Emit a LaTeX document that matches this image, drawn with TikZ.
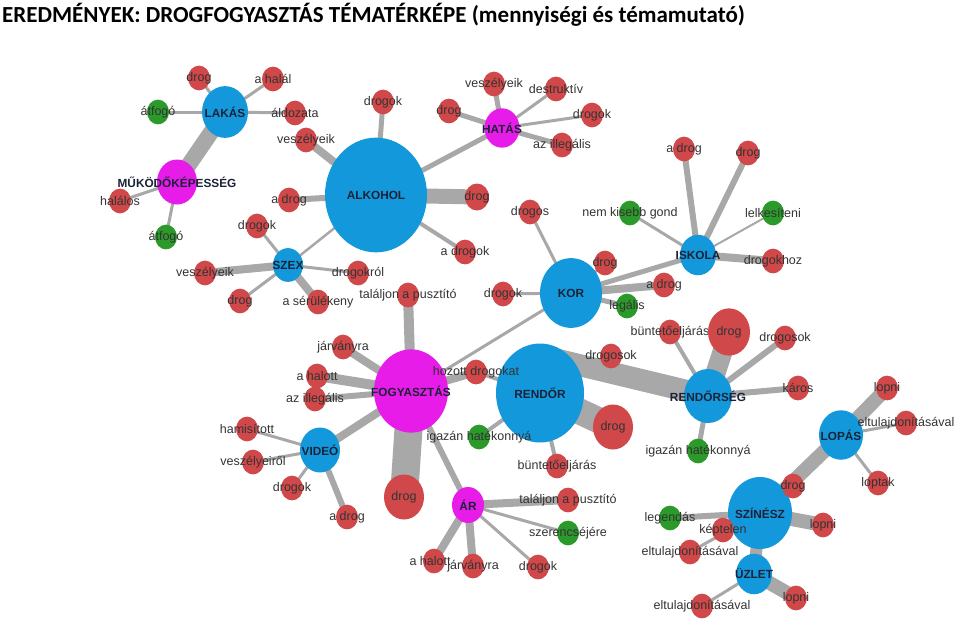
\documentclass[tikz,border=0pt]{standalone}
\usepackage{fontspec}
\setmainfont{Liberation Sans}
\newfontfamily\titlefont{Carlito}
\usetikzlibrary{shapes.geometric,calc}

\pgfdeclarelayer{bg}
\pgfsetlayers{bg,main}

\definecolor{nred}{HTML}{D0484A}
\definecolor{nblue}{HTML}{1399DB}
\definecolor{nmag}{HTML}{E81CE8}
\definecolor{ngreen}{HTML}{2B9A2B}
\definecolor{egray}{HTML}{A8A8A8}
\definecolor{ltxt}{HTML}{333333}
\definecolor{htxt}{HTML}{1A2238}

\begin{document}
\begin{tikzpicture}[x=1pt,y=-1pt,
    dot/.style={ellipse,inner sep=0pt,minimum width={2*#1pt},minimum height={2.25*#1pt}},
    rd/.style={dot=#1,fill=nred},rd/.default=11,
    gr/.style={dot=#1,fill=ngreen},gr/.default=11,
    bl/.style={dot=#1,fill=nblue},
    mg/.style={dot=#1,fill=nmag},
    lbl/.style={font=\fontsize{12.5}{14}\selectfont,text=ltxt,inner sep=0pt},
    hlbl/.style={font=\bfseries\fontsize{11.8}{14}\selectfont,text=htxt,inner sep=0pt},
    every label/.style=lbl,
    link/.style={draw=egray,line width=#1pt}]

  \useasboundingbox (0,0) rectangle (960,622);

  \node[anchor=north west,inner sep=0pt,font=\titlefont\bfseries\fontsize{23}{27}\selectfont]
    (title) at (2,3) {EREDMÉNYEK: DROGFOGYASZTÁS TÉMATÉRKÉPE (mennyiségi és témamutató)};

  % hubs
  \node[bl=23,label={[hlbl]center:LAKÁS}]          (lakas)   at (225,112) {};
  \node[mg=20,label={[hlbl]center:MŰKÖDŐKÉPESSÉG}] (muk)     at (177,182) {};
  \node[bl=51,label={[hlbl]center:ALKOHOL}]        (alk)     at (376,195) {};
  \node[bl=15,label={[hlbl]center:SZEX}]           (szex)    at (288,265) {};
  \node[mg=17.5,label={[hlbl]center:HATÁS}]        (hatas)   at (502,128) {};
  \node[bl=31,label={[hlbl]center:KOR}]            (kor)     at (571,293) {};
  \node[bl=18,label={[hlbl]center:ISKOLA}]         (iskola)  at (698,255) {};
  \node[mg=37,label={[hlbl]center:FOGYASZTÁS}]     (fogy)    at (411,391) {};
  \node[bl=44,label={[hlbl]center:RENDŐR}]         (rendor)  at (540,393) {};
  \node[bl=24,label={[hlbl]center:RENDŐRSÉG}]      (rseg)    at (708,396) {};
  \node[bl=22,label={[hlbl]center:LOPÁS}]          (lopas)   at (841,435) {};
  \node[bl=32,label={[hlbl]center:SZÍNÉSZ}]        (szinesz) at (760,513) {};
  \node[bl=18,label={[hlbl]center:ÜZLET}]          (uzlet)   at (754,574) {};
  \node[bl=20,label={[hlbl]center:VIDEÓ}]          (video)   at (320,450) {};
  \node[mg=16,label={[hlbl]center:ÁR}]             (ar)      at (468,505) {};

  % LAKÁS, MŰKÖDŐKÉPESSÉG
  \node[rd,label=center:drog]     (l1) at (199,78) {};
  \node[gr,label=center:átfogó]   (l2) at (158,112) {};
  \node[rd,label=center:a halál]  (l3) at (273,79) {};
  \node[rd,label=center:áldozata] (l4) at (295,113) {};
  \node[rd,label=center:halálos]  (m1) at (120,201) {};
  \node[gr,label=center:átfogó]   (m2) at (166,237) {};

  % ALKOHOL
  \node[rd,label=center:veszélyeik] (a1) at (306,140) {};
  \node[rd,label=center:drogok]     (a2) at (383,102) {};
  \node[rd=12,label=center:drog]    (a3) at (477,197) {};
  \node[rd,label=center:a drogok]   (a4) at (465,252) {};
  \node[rd,label=center:a drog]     (a5) at (289,200) {};

  % SZEX
  \node[rd,label=center:drogok]       (s1) at (257,226) {};
  \node[rd,label=center:veszélyeik]   (s2) at (205,273) {};
  \node[rd,label=center:drog]         (s3) at (240,301) {};
  \node[rd,label=center:a sérülékeny] (s4) at (318,302) {};
  \node[rd,label=center:drogokról]    (s5) at (358,273) {};

  % HATÁS
  \node[rd,label=center:veszélyeik]   (h1) at (494,84) {};
  \node[rd,label=center:destruktív]   (h2) at (556,89) {};
  \node[rd,label=center:drog]         (h3) at (449,111) {};
  \node[rd,label=center:drogok]       (h4) at (592,115) {};
  \node[rd,label=center:az illegális] (h5) at (562,145) {};

  % KOR, ISKOLA
  \node[rd,label=center:drogos]   (k1) at (530,212) {};
  \node[rd,label=center:drog]     (k2) at (605,263) {};
  \node[rd,label=center:drogok]   (k3) at (503,294) {};
  \node[rd,label=center:a drog]   (k4) at (664,285) {};
  \node[gr,label=center:legális]  (k5) at (627,306) {};
  \node[rd,label=center:a drog]          (i1) at (684,149) {};
  \node[rd,label=center:drog]            (i2) at (748,153) {};
  \node[gr,label=center:nem kisebb gond] (i3) at (630,213) {};
  \node[gr,label=center:lelkesíteni]     (i4) at (773,213) {};
  \node[rd,label=center:drogokhoz]       (i5) at (773,261) {};

  % FOGYASZTÁS
  \node[rd,label=center:találjon a pusztító] (f1) at (408,295) {};
  \node[rd,label=center:járványra]           (f2) at (343,347) {};
  \node[rd,label=center:a halott]            (f3) at (317,376) {};
  \node[rd,label=center:az illegális]        (f4) at (315,399) {};
  \node[rd,label=center:hozott drogokat]     (f5) at (476,372) {};
  \node[rd=20,label=center:drog]             (f6) at (404,497) {};

  % RENDŐR, RENDŐRSÉG
  \node[rd,label=center:drogosok]          (r1) at (611,356) {};
  \node[rd=20,label=center:drog]           (r2) at (613,427) {};
  \node[gr,label=center:igazán hatékonnyá] (r3) at (479,437) {};
  \node[rd,label=center:büntetőeljárás]    (r4) at (557,466) {};
  \node[rd,label=center:büntetőeljárás]    (q1) at (670,332) {};
  \node[rd=21,label=center:drog]           (q2) at (729,332) {};
  \node[rd,label=center:drogosok]          (q3) at (785,338) {};
  \node[rd,label=center:káros]             (q4) at (798,388) {};
  \node[gr,label=center:igazán hatékonnyá] (q5) at (698,451) {};

  % LOPÁS, SZÍNÉSZ, ÜZLET
  \node[rd,label=center:lopni]              (p1) at (887,388) {};
  \node[rd,label=center:eltulajdonításával] (p2) at (906,423) {};
  \node[rd,label=center:loptak]             (p3) at (878,483) {};
  \node[rd,label=center:drog]               (z1) at (793,486) {};
  \node[gr,label=center:legendás]           (z2) at (670,518) {};
  \node[rd,label=center:képtelen]           (z3) at (723,530) {};
  \node[rd,label=center:eltulajdonításával] (z4) at (690,552) {};
  \node[rd,label=center:lopni]              (z5) at (823,525) {};
  \node[rd,label=center:eltulajdonításával] (u1) at (702,606) {};
  \node[rd,label=center:lopni]              (u2) at (796,598) {};

  % VIDEÓ, ÁR
  \node[rd,label=center:hamisított]   (v1) at (247,429) {};
  \node[rd,label=center:veszélyeiről] (v2) at (253,462) {};
  \node[rd,label=center:drogok]       (v3) at (292,488) {};
  \node[rd,label=center:a drog]       (v4) at (347,517) {};
  \node[rd,label=center:találjon a pusztító] (b1) at (568,500) {};
  \node[gr,label=center:szerencséjére]       (b2) at (568,533) {};
  \node[rd,label=center:drogok]              (b3) at (538,567) {};
  \node[rd,label=center:járványra]           (b4) at (473,566) {};
  \node[rd,label={[xshift=-4pt]center:a halott}] (b5) at (434,561) {};

  \begin{pgfonlayer}{bg}
    \path (lakas.center) edge[link=16] (muk.center) edge[link=3] (l1.center)
          edge[link=3] (l2.center) edge[link=3] (l3.center) edge[link=3] (l4.center);
    \path (muk.center) edge[link=3] (m1.center) edge[link=3] (m2.center);
    \path (alk.center) edge[link=8] (a1.center) edge[link=5] (a2.center)
          edge[link=15] (a3.center) edge[link=4] (a4.center) edge[link=6] (a5.center)
          edge[link=5] (hatas.center) edge[link=2.5] (szex.center);
    \path (szex.center) edge[link=3] (s1.center) edge[link=8] (s2.center)
          edge[link=3] (s3.center) edge[link=8] (s4.center) edge[link=3] (s5.center);
    \path (hatas.center) edge[link=5] (h1.center) edge[link=3] (h2.center)
          edge[link=5] (h3.center) edge[link=3] (h4.center) edge[link=5] (h5.center);
    \path (kor.center) edge[link=3] (k1.center) edge[link=3] (k2.center)
          edge[link=3] (k3.center) edge[link=8] (k4.center) edge[link=5] (k5.center)
          edge[link=5] (iskola.center) edge[link=3] (fogy.center);
    \path (iskola.center) edge[link=6] (i1.center) edge[link=6] (i2.center)
          edge[link=3] (i3.center) edge[link=2] (i4.center) edge[link=8] (i5.center);
    \path (fogy.center) edge[link=10] (f1.center) edge[link=8] (f2.center)
          edge[link=10] (f3.center) edge[link=6] (f4.center) edge[link=8] (f5.center)
          edge[link=28] (f6.center) edge[link=8] (video.center) edge[link=6] (ar.center);
    \path (f5.center) edge[link=4] (rendor.center);
    \path (rendor.center) edge[link=6] (r1.center) edge[link=26] (r2.center)
          edge[link=4] (r3.center) edge[link=4] (r4.center);
    \path ($(rendor.center)+(10,-35)$) edge[link=22] (rseg.center);
    \path (rseg.center) edge[link=4] (q1.center) edge[link=20] (q2.center)
          edge[link=6] (q3.center) edge[link=6] (q4.center) edge[link=5] (q5.center);
    \path (lopas.center) edge[link=14] (p1.center) edge[link=3] (p2.center)
          edge[link=3] (p3.center) edge[link=14] (szinesz.center);
    \path (szinesz.center) edge[link=5] (z1.center) edge[link=6] (z2.center)
          edge[link=3] (z3.center) edge[link=3] (z4.center) edge[link=14] (z5.center)
          edge[link=12] (uzlet.center);
    \path (uzlet.center) edge[link=3] (u1.center) edge[link=14] (u2.center);
    \path (video.center) edge[link=3] (v1.center) edge[link=3] (v2.center)
          edge[link=3] (v3.center) edge[link=6] (v4.center);
    \path (ar.center) edge[link=8] (b1.center) edge[link=3] (b2.center)
          edge[link=3] (b3.center) edge[link=8] (b4.center) edge[link=8] (b5.center);
  \end{pgfonlayer}
\end{tikzpicture}
\end{document}
